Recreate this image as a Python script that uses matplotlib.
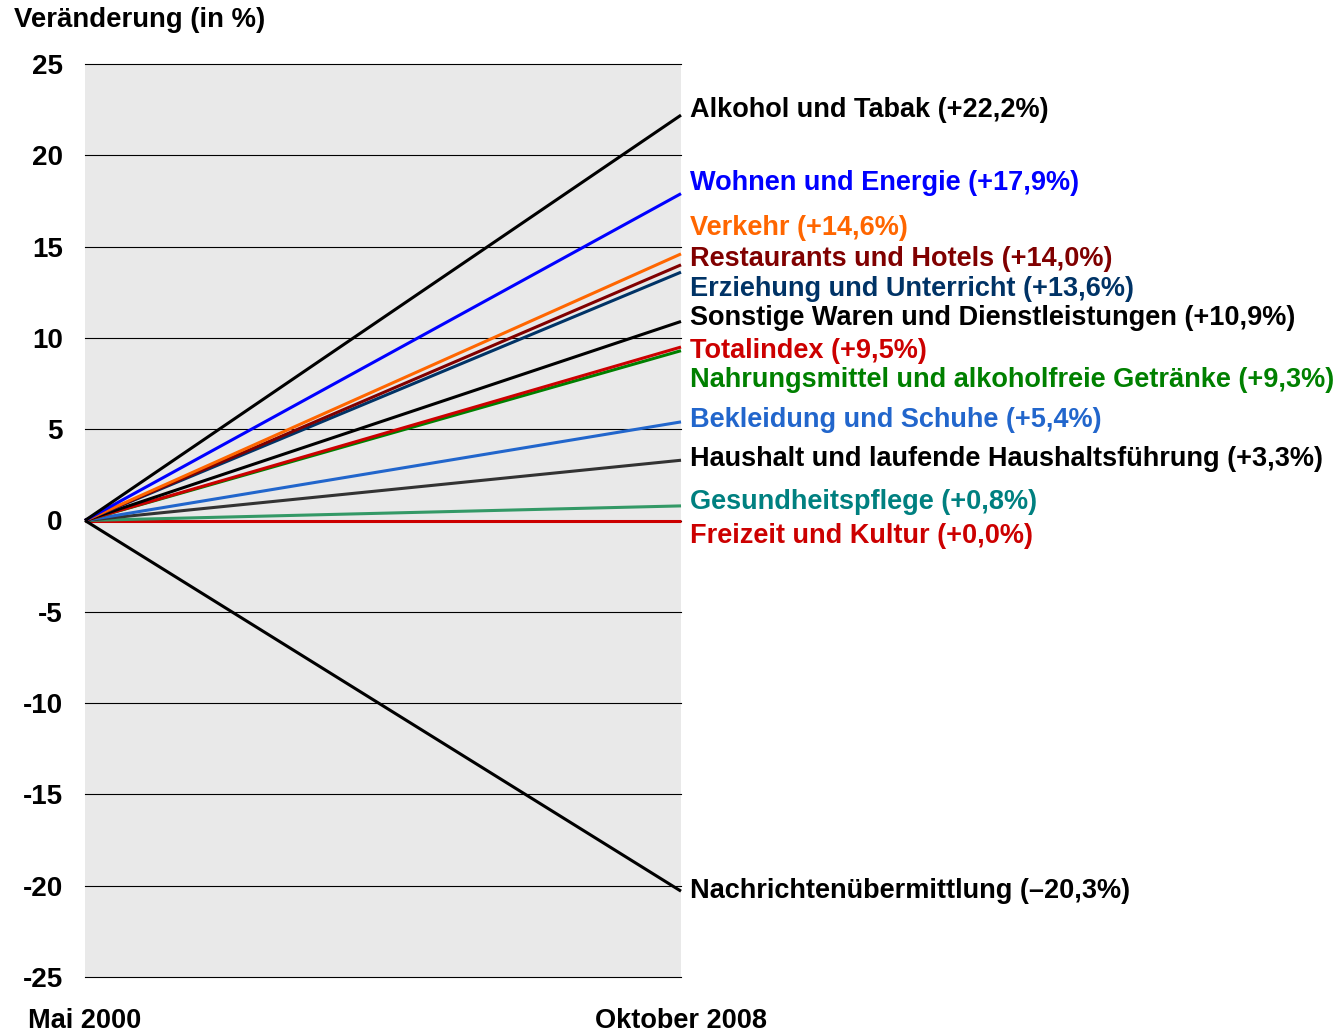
import matplotlib
matplotlib.use("Agg")
import matplotlib.pyplot as plt

categories = ["Alkohol und Tabak", "Wohnen und Energie", "Verkehr",
              "Restaurants und Hotels", "Erziehung und Unterricht",
              "Sonstige Waren und Dienstleistungen", "Totalindex",
              "Nahrungsmittel und alkoholfreie Getränke", "Bekleidung und Schuhe",
              "Haushalt und laufende Haushaltsführung", "Gesundheitspflege",
              "Freizeit und Kultur", "Nachrichtenübermittlung"]
values = [22.2, 17.9, 14.6, 14.0, 13.6, 10.9, 9.5, 9.3, 5.4, 3.3, 0.8, 0.0, -20.3]
value_labels = ["+22,2%", "+17,9%", "+14,6%", "+14,0%", "+13,6%", "+10,9%", "+9,5%",
                "+9,3%", "+5,4%", "+3,3%", "+0,8%", "+0,0%", "–20,3%"]
x_labels = ["Mai 2000", "Oktober 2008"]
y_ticks = [25, 20, 15, 10, 5, 0, -5, -10, -15, -20, -25]

line_colors = ["#000000", "#0000ff", "#ff6600", "#800000", "#003366", "#000000", "#cc0000",
               "#008000", "#2266cc", "#333333", "#339966", "#cc0000", "#000000"]
text_colors = ["#000000", "#0000ff", "#ff6600", "#800000", "#003366", "#000000", "#cc0000",
               "#008000", "#2266cc", "#000000", "#008080", "#cc0000", "#000000"]
label_y = [22.5, 18.5, 16.0, 14.3, 12.7, 11.1, 9.3, 7.7, 5.5, 3.35, 1.0, -0.85, -20.3]
draw_order = [11, 10, 9, 8, 7, 6, 5, 4, 3, 2, 1, 0, 12]

plt.rcParams['font.family'] = ['Liberation Sans', 'DejaVu Sans']
fig = plt.figure(figsize=(13.43, 10.34), dpi=100)
ax = fig.add_axes([85/1343, 1-977/1034, (681-85)/1343, (977-64)/1034])
ax.set_facecolor("#e9e9e9")
ax.set_xlim(0, 1)
ax.set_ylim(-25, 25)
for yv in y_ticks:
    ax.axhline(yv, color="black", lw=0.8, zorder=1, clip_on=False)
for i in draw_order:
    ax.plot([0, 1], [0, values[i]], color=line_colors[i], lw=2.2, zorder=3,
            solid_capstyle="butt", clip_on=False)
for s in ax.spines.values():
    s.set_visible(False)
ax.set_yticks(y_ticks)
ax.set_yticklabels([str(v) for v in y_ticks], fontsize=20, fontweight="bold")
ax.tick_params(axis="y", length=0, pad=16)
ax.set_xticks([0, 1])
ax.set_xticklabels(x_labels, fontsize=19.5, fontweight="bold")
ax.tick_params(axis="x", length=0, pad=22)

for i, c in enumerate(categories):
    ax.text(1.015, label_y[i], f"{c} ({value_labels[i]})", color=text_colors[i],
            fontsize=19.5, fontweight="bold", va="center", ha="left",
            transform=ax.transData, clip_on=False)

fig.text(14/1343, 1-20/1034, "Veränderung (in %)", fontsize=19.8, fontweight="bold",
         va="center", ha="left")
fig.savefig("out.png", dpi=100)
